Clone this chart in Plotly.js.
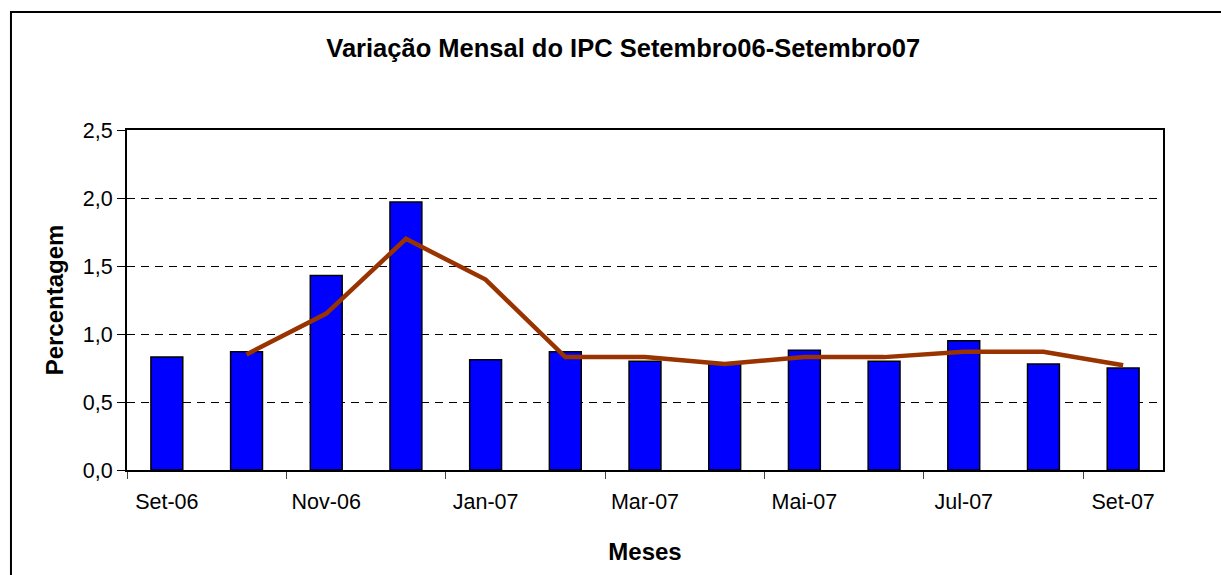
<!DOCTYPE html>
<html>
<head>
<meta charset="utf-8">
<script src="https://cdn.plot.ly/plotly-3.0.1.min.js"></script>
<style>
  body { margin: 0; padding: 0; background: #fff; }
  #plot { width: 1221px; height: 575px; }
</style>
</head>
<body>
<div id="plot"></div>
<script>
var meses = ['Set-06', 'Out-06', 'Nov-06', 'Dez-06', 'Jan-07', 'Fev-07', 'Mar-07',
             'Abr-07', 'Mai-07', 'Jun-07', 'Jul-07', 'Ago-07', 'Set-07'];
// variacao mensal (barras)
var ipc = [0.83, 0.87, 1.43, 1.97, 0.81, 0.87, 0.80, 0.78, 0.88, 0.80, 0.95, 0.78, 0.75];
// media movel (linha), comeca em Out-06
var media = [null, 0.85, 1.15, 1.70, 1.40, 0.83, 0.83, 0.78, 0.83, 0.83, 0.87, 0.87, 0.77];

var fonte = 'Liberation Sans, Arial, sans-serif';

var barras = {
  x: meses,
  y: ipc,
  type: 'bar',
  name: 'IPC',
  marker: {color: '#0000FF', line: {color: '#000000', width: 1.5}}
};
var linha = {
  x: meses,
  y: media,
  type: 'scatter',
  mode: 'lines',
  name: 'Media',
  connectgaps: false,
  line: {color: '#993300', width: 4.5}
};

var layout = {
  width: 1221,
  height: 575,
  margin: {l: 127, r: 58, t: 130, b: 105},
  paper_bgcolor: '#ffffff',
  plot_bgcolor: '#ffffff',
  separators: ', ',
  showlegend: false,
  bargap: 0.6,
  font: {family: fonte, color: '#000000'},
  title: {
    text: '<b>Variação Mensal do IPC Setembro06-Setembro07</b>',
    font: {family: fonte, size: 25.5, color: '#000000'},
    xref: 'paper', x: 0.479, xanchor: 'center',
    yref: 'container', y: 0.916, yanchor: 'middle'
  },
  xaxis: {
    type: 'category',
    tickson: 'boundaries',
    dtick: 2,
    ticks: 'outside',
    ticklen: 7,
    tickwidth: 1,
    tickcolor: '#444444',
    ticklabelstandoff: 11,
    tickfont: {family: fonte, size: 21.5, color: '#000000'},
    showgrid: false,
    showline: true,
    linecolor: '#000000',
    linewidth: 2,
    mirror: true,
    title: {
      text: '<b>Meses</b>',
      font: {family: fonte, size: 24, color: '#000000'},
      standoff: 30
    }
  },
  yaxis: {
    range: [0, 2.5],
    autorange: false,
    dtick: 0.5,
    tickformat: '.1f',
    ticks: 'outside',
    ticklen: 8,
    tickwidth: 1,
    tickcolor: '#000000',
    tickfont: {family: fonte, size: 21.5, color: '#000000'},
    showgrid: true,
    gridcolor: '#000000',
    gridwidth: 1,
    griddash: '8px,6px',
    zeroline: false,
    showline: true,
    linecolor: '#000000',
    linewidth: 2,
    mirror: true,
    title: {
      text: '<b>Percentagem</b>',
      font: {family: fonte, size: 24, color: '#000000'},
      standoff: 12
    }
  },
  shapes: [{
    type: 'rect',
    xref: 'paper', yref: 'paper',
    x0: -0.112, x1: 1.08, y0: -0.42, y1: 1.347,
    line: {color: '#000000', width: 2},
    fillcolor: 'rgba(0,0,0,0)',
    layer: 'above'
  }]
};

Plotly.newPlot('plot', [barras, linha], layout, {staticPlot: true, displayModeBar: false});
</script>
</body>
</html>
